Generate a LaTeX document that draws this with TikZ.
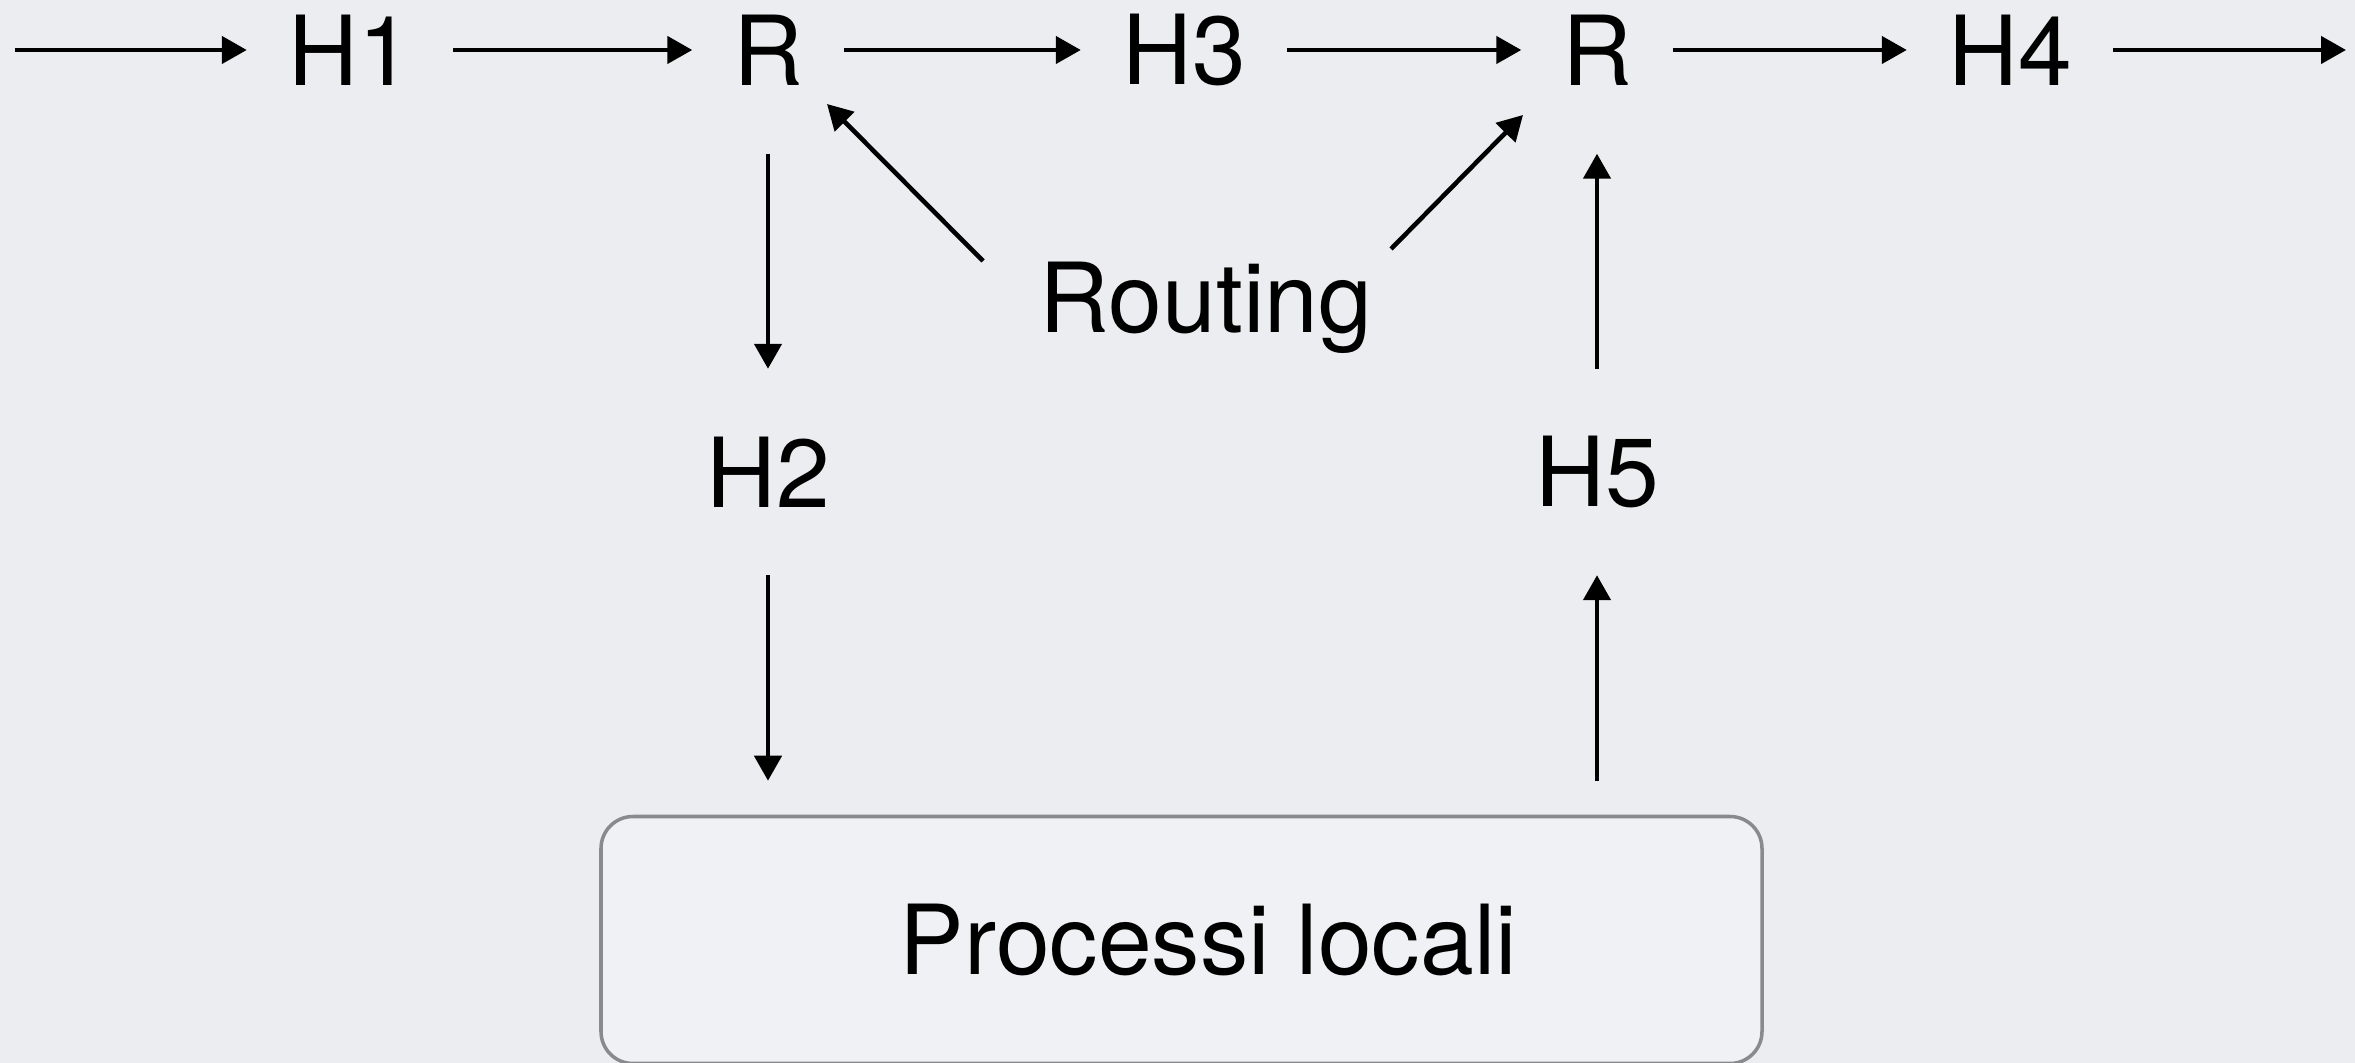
\documentclass[tikz,border=0pt]{standalone}
\usepackage{fontspec}
\setmainfont{TeX Gyre Heros}
\usetikzlibrary{arrows.meta,calc}
\definecolor{bgcol}{RGB}{236,237,240}
\definecolor{boxfill}{RGB}{240,241,244}
\definecolor{boxline}{RGB}{136,138,142}
\begin{document}
\begin{tikzpicture}[x=1cm,y=1cm,
  lbl/.style={inner sep=0pt, font=\fontsize{27.5}{33}\selectfont, text=black},
  hnode/.style={lbl, minimum width=2.05cm, minimum height=2.05cm},
  rnode/.style={lbl, minimum width=1.5cm, minimum height=2.06cm},
  arr/.style={line width=1.3pt, -{Triangle[length=0.25cm,width=0.27cm]}},
  procbox/.style={draw=boxline, line width=1.0pt, fill=boxfill, rounded corners=0.32cm, lbl}
]
\useasboundingbox (0,0) rectangle (23.55,-10.63);
\fill[bgcol] (0,0) rectangle (23.55,-10.63);

\coordinate (in) at (0.15,-0.50);
\coordinate (out) at (23.46,-0.50);
\node[hnode] (H1) at (3.50,-0.50) {H1};
\node[rnode] (R1) at (7.68,-0.50) {R};
\node[hnode] (H3) at (11.84,-0.50) {H3};
\node[rnode] (R2) at (15.97,-0.50) {R};
\node[hnode] (H4) at (20.10,-0.50) {H4};
\node[hnode] (H2) at (7.68,-4.72) {H2};
\node[hnode] (H5) at (15.97,-4.72) {H5};
\node[lbl] (Routing) at (12.06,-3.08) {Routing};
\node[procbox, minimum width=11.61cm, minimum height=2.47cm] (Box) at (11.815,-9.40) {\hspace{0.54cm}Processi locali};

\draw[arr] (in) -- (H1.west);
\draw[arr] (H1.east) -- (R1.west);
\draw[arr] (R1.east) -- (H3.west);
\draw[arr] (H3.east) -- (R2.west);
\draw[arr] (R2.east) -- (H4.west);
\draw[arr] (H4.east) -- (out);

\draw[arr] (R1.south) -- (H2.north);
\draw[arr, shorten >=0.34cm] (H2.south) -- (H2.south |- Box.north);
\draw[arr, shorten <=0.34cm] (H5.south |- Box.north) -- (H5.south);
\draw[arr] (H5.north) -- (R2.south);

\draw[arr] ($(Routing.center)+(-2.23,0.47)$) -- ($(R1.center)+(0.59,-0.54)$);
\draw[arr] ($(Routing.center)+(1.85,0.59)$) -- ($(R2.center)+(-0.74,-0.65)$);
\end{tikzpicture}
\end{document}
